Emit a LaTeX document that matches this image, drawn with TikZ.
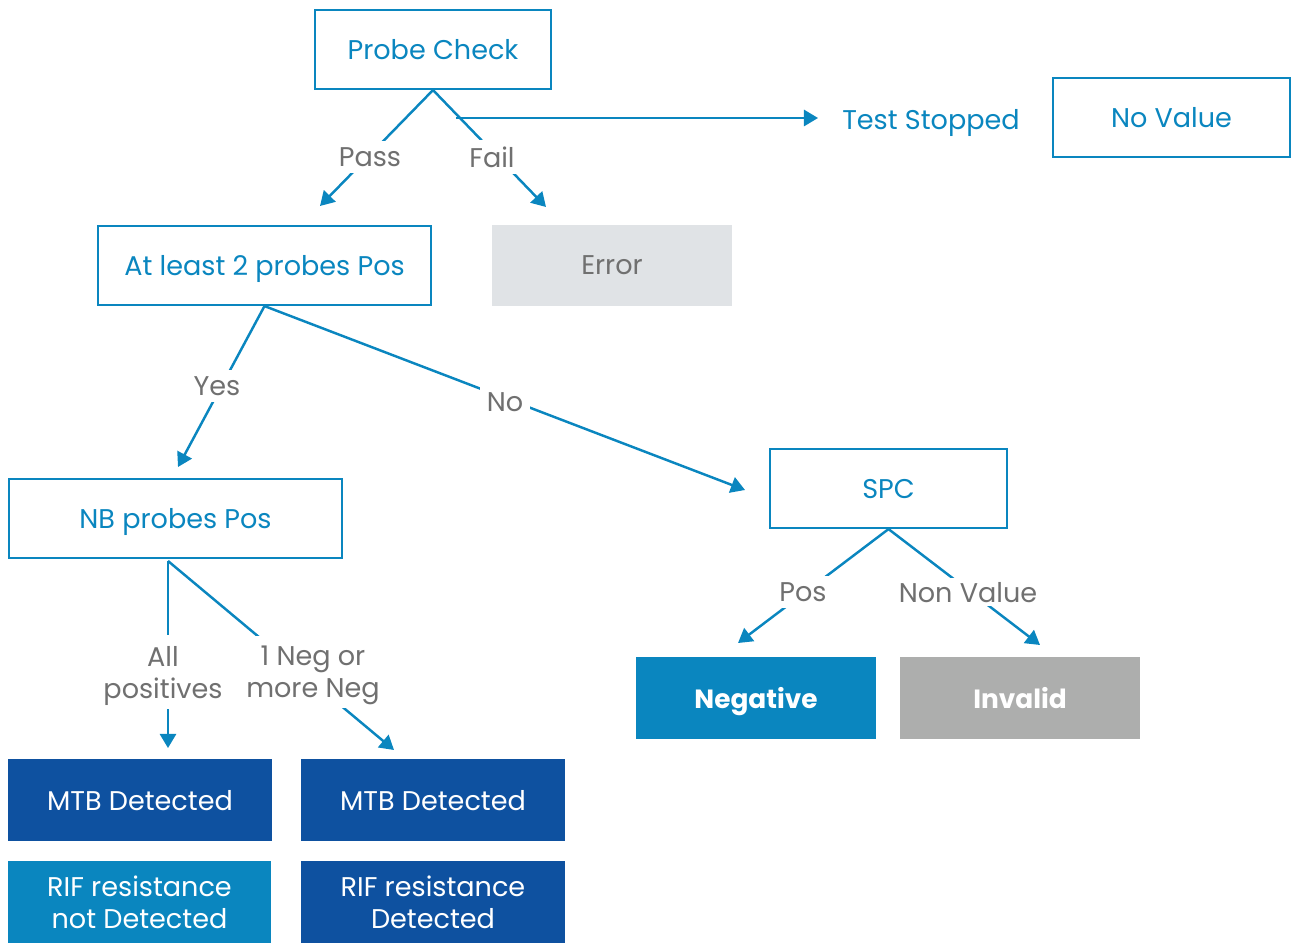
\documentclass[tikz,border=0pt]{standalone}
\usepackage{fontspec}
\setmainfont{Poppins}
\usetikzlibrary{arrows.meta}
\definecolor{cblue}{HTML}{0A86BF}
\definecolor{cdark}{HTML}{0E51A0}
\definecolor{cerr}{HTML}{E0E3E6}
\definecolor{cinv}{HTML}{ADAEAD}
\definecolor{cgray}{HTML}{707070}
\tikzset{
  base/.style={inner sep=0pt, align=center, text depth=0pt, font=\fontsize{7.7}{9.1}\selectfont},
  obox/.style={base, draw=cblue, line width=0.6pt, text=cblue, minimum height=0.79cm},
  fbox/.style={base, minimum height=0.82cm},
  lbl/.style={base, fill=white, text=cgray, inner sep=2pt},
  conn/.style={draw=cblue, line width=0.7pt},
  arr/.style={conn, -{Triangle[length=4pt,width=4.6pt]}}
}
\begin{document}
\begin{tikzpicture}[x=0.01cm,y=-0.01cm]
\useasboundingbox (0,0) rectangle (1292,943);
% boxes
\node[obox, minimum width=2.36cm] (pc) at (433,49.5) {Probe Check};
\node[obox, minimum width=2.37cm] (nv) at (1171.5,117.5) {No Value};
\node[base, text=cblue] (ts) at (931,119) {Test Stopped};
\node[obox, minimum width=3.33cm] (al) at (264.5,265.5) {At least 2 probes Pos};
\node[fbox, fill=cerr, text=cgray, minimum width=2.40cm, minimum height=0.81cm] (err) at (612,265.5) {Error};
\node[obox, minimum width=3.33cm] (nb) at (175.5,518.5) {NB probes Pos};
\node[obox, minimum width=2.37cm] (spc) at (888.5,488.5) {SPC};
\node[fbox, fill=cblue, text=white, minimum width=2.40cm, font=\fontsize{7.5}{9.1}\selectfont\bfseries] (neg) at (756,698) {Negative};
\node[fbox, fill=cinv, text=white, minimum width=2.40cm, font=\fontsize{7.5}{9.1}\selectfont\bfseries] (inv) at (1020,698) {Invalid};
\node[fbox, fill=cdark, text=white, minimum width=2.64cm] (mtb1) at (140,800) {MTB Detected};
\node[fbox, fill=cdark, text=white, minimum width=2.64cm] (mtb2) at (433,800) {MTB Detected};
\node[fbox, fill=cblue, text=white, minimum width=2.63cm] (rif1) at (139.5,902) {RIF resistance\\not Detected};
\node[fbox, fill=cdark, text=white, minimum width=2.64cm] (rif2) at (433,902) {RIF resistance\\Detected};
% connector endpoints
\coordinate (nbs) at (168,561);
\coordinate (tpass) at (320,206);
\coordinate (tfail) at (546,207);
\coordinate (tfork) at (456,118);
\coordinate (tts) at (818,118);
\coordinate (tyes) at (178,467);
\coordinate (tno) at (745,490);
\coordinate (tall) at (168,748);
\coordinate (tneg) at (394,750);
\coordinate (tpos) at (738,643);
\coordinate (tnv) at (1040,645);
% connectors
\draw[arr] (pc.south) -- (tpass);
\draw[arr] (pc.south) -- (tfail);
\draw[arr] (tfork) -- (tts);
\draw[arr] (al.south) -- (tyes);
\draw[arr] (al.south) -- (tno);
\draw[arr] (nbs) -- (tall);
\draw[arr] (nbs) -- (tneg);
\draw[arr] (spc.south) -- (tpos);
\draw[arr] (spc.south) -- (tnv);
% labels
\node[lbl] (lpass) at (370,157) {Pass};
\node[lbl] (lfail) at (492,157) {Fail};
\node[lbl] (lyes) at (217,386) {Yes};
\node[lbl] (lno) at (505,402) {No};
\node[lbl, inner sep=3pt] (lall) at (163,672) {All\\positives};
\node[lbl, inner sep=3pt] (lneg) at (313,672) {1 Neg or\\more Neg};
\node[lbl] (lpos) at (803,592) {Pos};
\node[lbl, inner sep=1pt] (lnv) at (968,592) {Non Value};
\end{tikzpicture}
\end{document}
